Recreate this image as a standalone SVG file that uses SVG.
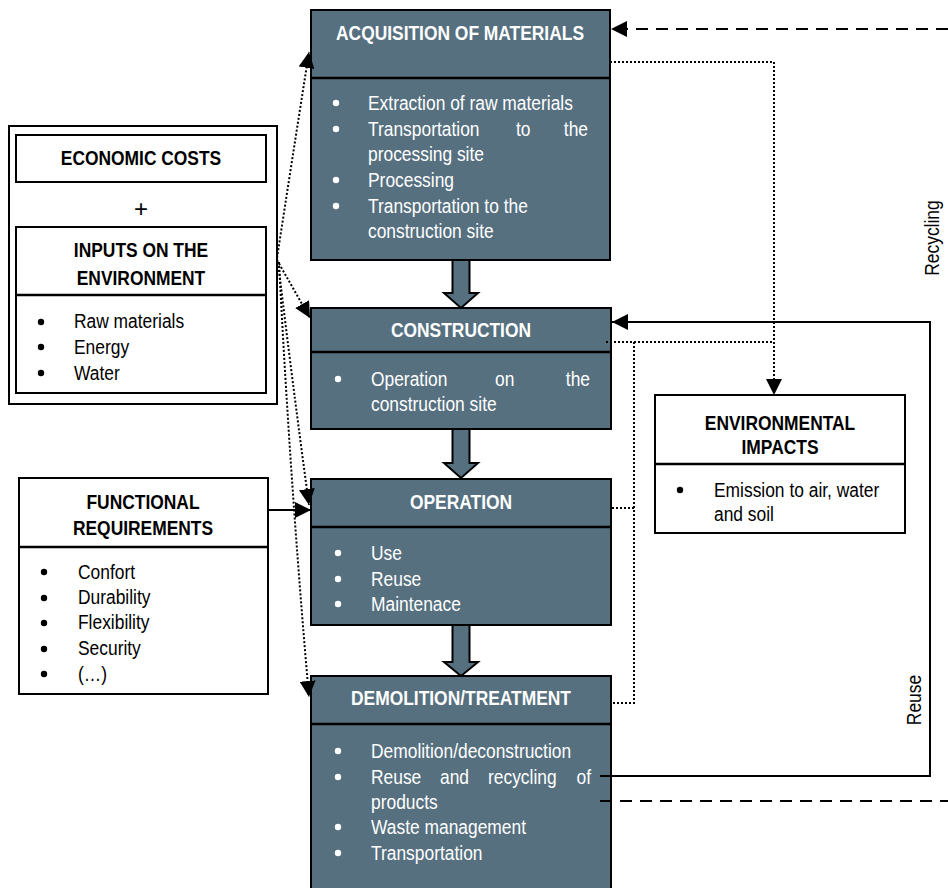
<svg xmlns="http://www.w3.org/2000/svg" width="948" height="888" viewBox="0 0 948 888">
<style>
text{font-family:"Liberation Sans",Arial,sans-serif;font-size:20px}
.t{fill:#fff;font-weight:bold;text-anchor:middle}
.w{fill:#fff}
.b{fill:#000}
.bt{fill:#000;font-weight:bold;text-anchor:middle}
.e{text-anchor:end}
.box{fill:#56707f;stroke:#000;stroke-width:2}
.wbox{fill:#fff;stroke:#000;stroke-width:2}
.div{stroke:#000;stroke-width:2.5}
.dot{fill:none;stroke:#000;stroke-width:2;stroke-dasharray:2 2}
.dash{fill:none;stroke:#000;stroke-width:2;stroke-dasharray:12 8}
.sol{fill:none;stroke:#000;stroke-width:2}
.blk{fill:#56707f;stroke:#000;stroke-width:2}
</style>
<defs>
<marker id="ah" markerUnits="userSpaceOnUse" markerWidth="18" markerHeight="16" refX="16" refY="8" orient="auto">
<path d="M0,0 L16,8 L0,16 Z" fill="#000"/>
</marker>
</defs>

<g id="acquisition">
<rect class="box" x="311" y="10" width="299" height="250"/>
<line class="div" x1="311" y1="78" x2="610" y2="78"/>
<text class="t" transform="translate(460 40) scale(.87 1)">ACQUISITION OF MATERIALS</text>
<g fill="#fff"><circle cx="336" cy="103" r="3.2"/><circle cx="336" cy="129" r="3.2"/><circle cx="336" cy="180" r="3.2"/><circle cx="336" cy="206" r="3.2"/></g>
<text class="w" transform="translate(368 110) scale(.87 1)">Extraction of raw materials</text>
<text class="w" transform="translate(368 136) scale(.87 1)">Transportation</text>
<text class="w" transform="translate(516 136) scale(.87 1)">to</text>
<text class="w e" transform="translate(588 136) scale(.87 1)">the</text>
<text class="w" transform="translate(368 161) scale(.87 1)">processing site</text>
<text class="w" transform="translate(368 187) scale(.87 1)">Processing</text>
<text class="w" transform="translate(368 213) scale(.87 1)">Transportation to the</text>
<text class="w" transform="translate(368 238) scale(.87 1)">construction site</text>
</g>

<g id="construction">
<rect class="box" x="311" y="308" width="300" height="121"/>
<line class="div" x1="311" y1="352" x2="611" y2="352"/>
<text class="t" transform="translate(461 337) scale(.87 1)">CONSTRUCTION</text>
<circle cx="338" cy="379" r="3.2" fill="#fff"/>
<text class="w" transform="translate(371 386) scale(.87 1)">Operation</text>
<text class="w" transform="translate(495 386) scale(.87 1)">on</text>
<text class="w e" transform="translate(590 386) scale(.87 1)">the</text>
<text class="w" transform="translate(371 411) scale(.87 1)">construction site</text>
</g>

<g id="operation">
<rect class="box" x="311" y="479" width="300" height="146"/>
<line class="div" x1="311" y1="527" x2="611" y2="527"/>
<text class="t" transform="translate(461 509) scale(.87 1)">OPERATION</text>
<g fill="#fff"><circle cx="338" cy="553" r="3.2"/><circle cx="338" cy="579" r="3.2"/><circle cx="338" cy="604" r="3.2"/></g>
<text class="w" transform="translate(371 560) scale(.87 1)">Use</text>
<text class="w" transform="translate(371 586) scale(.87 1)">Reuse</text>
<text class="w" transform="translate(371 611) scale(.87 1)">Maintenace</text>
</g>

<g id="demolition">
<rect class="box" x="311" y="676" width="300" height="230"/>
<line class="div" x1="311" y1="724" x2="611" y2="724"/>
<text class="t" transform="translate(461 705) scale(.87 1)">DEMOLITION/TREATMENT</text>
<g fill="#fff"><circle cx="338" cy="751" r="3.2"/><circle cx="338" cy="777" r="3.2"/><circle cx="338" cy="827" r="3.2"/><circle cx="338" cy="853" r="3.2"/></g>
<text class="w" transform="translate(371 758) scale(.87 1)">Demolition/deconstruction</text>
<text class="w" transform="translate(371 784) scale(.87 1)">Reuse</text>
<text class="w" transform="translate(440 784) scale(.87 1)">and</text>
<text class="w" transform="translate(488 784) scale(.87 1)">recycling</text>
<text class="w e" transform="translate(591 784) scale(.87 1)">of</text>
<text class="w" transform="translate(371 809) scale(.87 1)">products</text>
<text class="w" transform="translate(371 834) scale(.87 1)">Waste management</text>
<text class="w" transform="translate(371 860) scale(.87 1)">Transportation</text>
</g>

<g id="inputs">
<rect class="wbox" x="9" y="126" width="268" height="278"/>
<rect class="wbox" x="16" y="135" width="250" height="47"/>
<text class="bt" transform="translate(141 165) scale(.87 1)">ECONOMIC COSTS</text>
<text class="b" x="141" y="217" text-anchor="middle" style="font-size:24px">+</text>
<rect class="wbox" x="16" y="227" width="250" height="166"/>
<line class="div" x1="16" y1="295" x2="266" y2="295"/>
<text class="bt" transform="translate(141 257) scale(.87 1)">INPUTS ON THE</text>
<text class="bt" transform="translate(141 285) scale(.87 1)">ENVIRONMENT</text>
<g fill="#000"><circle cx="41" cy="322" r="3.2"/><circle cx="41" cy="347" r="3.2"/><circle cx="41" cy="373" r="3.2"/></g>
<text class="b" transform="translate(74 328) scale(.87 1)">Raw materials</text>
<text class="b" transform="translate(74 354) scale(.87 1)">Energy</text>
<text class="b" transform="translate(74 380) scale(.87 1)">Water</text>
</g>

<g id="functional">
<rect class="wbox" x="19" y="478" width="249" height="216"/>
<line class="div" x1="19" y1="547" x2="268" y2="547"/>
<text class="bt" transform="translate(143 509) scale(.87 1)">FUNCTIONAL</text>
<text class="bt" transform="translate(143 535) scale(.87 1)">REQUIREMENTS</text>
<g fill="#000"><circle cx="44" cy="572" r="3.2"/><circle cx="44" cy="598" r="3.2"/><circle cx="44" cy="623" r="3.2"/><circle cx="44" cy="649" r="3.2"/><circle cx="44" cy="674" r="3.2"/></g>
<text class="b" transform="translate(78 579) scale(.87 1)">Confort</text>
<text class="b" transform="translate(78 604) scale(.87 1)">Durability</text>
<text class="b" transform="translate(78 629) scale(.87 1)">Flexibility</text>
<text class="b" transform="translate(78 655) scale(.87 1)">Security</text>
<text class="b" transform="translate(78 681) scale(.87 1)">(…)</text>
</g>

<g id="environmental">
<rect class="wbox" x="655" y="395" width="250" height="138"/>
<line class="div" x1="655" y1="464" x2="905" y2="464"/>
<text class="bt" transform="translate(780 430) scale(.87 1)">ENVIRONMENTAL</text>
<text class="bt" transform="translate(780 454) scale(.87 1)">IMPACTS</text>
<circle cx="680" cy="490" r="3.2" fill="#000"/>
<text class="b" transform="translate(714 497) scale(.87 1)">Emission to air, water</text>
<text class="b" transform="translate(714 521) scale(.87 1)">and soil</text>
</g>

<g id="connectors">
<polygon class="blk" points="452.5,260 469.5,260 469.5,293 478,293 461,308 444,293 452.5,293"/>
<polygon class="blk" points="452.5,429 469.5,429 469.5,463 478,463 461,478 444,463 452.5,463"/>
<polygon class="blk" points="452.5,625 469.5,625 469.5,662 478,662 461,676 444,662 452.5,662"/>

<path class="dot" d="M610 62 H774 V395" marker-end="url(#ah)"/>
<path class="dot" d="M606 342 H774"/>
<path class="dot" d="M634 342 V703 H612"/>
<path class="dot" d="M612 508 H634"/>

<path class="dash" d="M948 29 H611" marker-end="url(#ah)"/>
<path class="dash" d="M600 801 H948"/>
<path class="sol" d="M600 776 H930 V322 H612" marker-end="url(#ah)"/>
<path class="sol" d="M268 510 H311" marker-end="url(#ah)"/>

<path class="dot" d="M277 258 Q292 160 309 52" marker-end="url(#ah)"/>
<path class="dot" d="M277 260 L310 318" marker-end="url(#ah)"/>
<path class="dot" d="M278 262 Q292 380 309 505" marker-end="url(#ah)"/>
<path class="dot" d="M279 262 Q290 480 309 697" marker-end="url(#ah)"/>

<text class="b" text-anchor="middle" transform="translate(939 238) rotate(-90) scale(.87 1)">Recycling</text>
<text class="b" text-anchor="middle" transform="translate(921 700) rotate(-90) scale(.87 1)">Reuse</text>
</g>
</svg>
